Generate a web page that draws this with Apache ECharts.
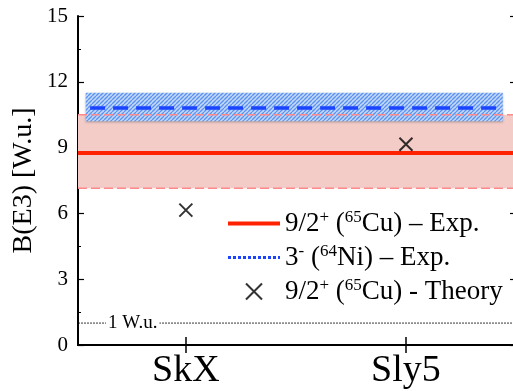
<!DOCTYPE html>
<html>
<head>
<meta charset="utf-8">
<script src="https://cdn.jsdelivr.net/npm/echarts@6/dist/echarts.min.js"></script>
<style>
  html, body { margin: 0; padding: 0; background: #fff; }
  #chart { width: 513px; height: 391px; }
</style>
</head>
<body>
<div id="chart"></div>
<script>
// categories (models) and theory values
var categories = ['SkX', 'Sly5'];
var theoryVals = [6.15, 9.15];

// experimental bands: [low, central, high]
var cuExp = [7.15, 8.75, 10.5];
var niExp = [10.2, 10.8, 11.5];

// extents along x (category index units)
var xRange = [0.51, 2.5];
var niRange = [0.545, 2.44];

var yTicks = [0, 3, 6, 9, 12, 15];
var wuLine = 1;

var serif = 'Liberation Serif';

// hatch pattern for the 64Ni band
function hatch() {
    var s = 4;
    var c = document.createElement('canvas');
    c.width = s; c.height = s;
    var g = c.getContext('2d');
    g.fillStyle = '#c3d7f8';
    g.fillRect(0, 0, s, s);
    g.strokeStyle = '#5b93ef';
    g.lineWidth = 1.3;
    for (var k = -s; k <= s; k += s) {
        g.beginPath();
        g.moveTo(k, s);
        g.lineTo(k + s, 0);
        g.stroke();
    }
    return c;
}

var theoryData = theoryVals.map(function (v, i) { return [i + 1, v]; });

var chart = echarts.init(document.getElementById('chart'));

var option = {
    animation: false,
    grid: { left: 78, top: 16, width: 438, bottom: 46, outerBoundsMode: 'none', containLabel: false },
    xAxis: [{
        type: 'value',
        min: xRange[0], max: xRange[1],
        axisLine: { show: true, lineStyle: { color: '#000', width: 2 } },
        axisTick: { show: true, inside: true, length: 8, customValues: [1, 2], lineStyle: { color: '#000', width: 1.5 } },
        axisLabel: {
            customValues: [1, 2],
            formatter: function (v) { return categories[Math.round(v) - 1] || ''; },
            fontFamily: serif, fontSize: 38, color: '#000', margin: 7
        },
        splitLine: { show: false }
    }, {
        type: 'value', position: 'top',
        min: xRange[0], max: xRange[1],
        axisLine: { show: true, lineStyle: { color: '#000', width: 1.5 } },
        axisTick: { show: true, inside: true, length: 8, customValues: [1, 2], lineStyle: { color: '#000', width: 1.5 } },
        axisLabel: { show: false },
        splitLine: { show: false }
    }],
    yAxis: [{
        type: 'value', min: 0, max: 15, interval: 3,
        name: 'B(E3) [W.u.]', nameLocation: 'middle', nameGap: 40, nameMoveOverlap: false,
        nameTextStyle: { fontFamily: serif, fontSize: 28, color: '#000' },
        axisLine: { show: true, lineStyle: { color: '#000', width: 2 } },
        axisTick: { show: true, inside: true, length: 6, lineStyle: { color: '#000', width: 1.2 } },
        minorTick: { show: true, splitNumber: 2, length: 3, lineStyle: { color: '#000', width: 1 } },
        axisLabel: {
            fontFamily: serif, fontSize: 21, color: '#000', margin: 10,
            formatter: function (v) { return yTicks.indexOf(v) >= 0 ? String(v) : ''; }
        },
        splitLine: { show: false }
    }, {
        type: 'value', min: 0, max: 15, interval: 3, position: 'right',
        axisLine: { show: true, lineStyle: { color: '#000', width: 2 } },
        axisTick: { show: true, inside: true, length: 6, lineStyle: { color: '#000', width: 1.2 } },
        minorTick: { show: true, splitNumber: 2, length: 3, lineStyle: { color: '#000', width: 1 } },
        axisLabel: { show: false },
        splitLine: { show: false }
    }],
    legend: {
        orient: 'vertical',
        left: 226, top: 209, padding: 0,
        itemWidth: 52, itemHeight: 16, itemGap: 5,
        textStyle: {
            fontFamily: serif, fontSize: 27, color: '#000', lineHeight: 29,
            rich: {
                n: { fontFamily: serif, fontSize: 27, color: '#000', lineHeight: 29 },
                sup: { fontFamily: serif, fontSize: 17, color: '#000', lineHeight: 15, verticalAlign: 'top' }
            }
        },
        formatter: function (name) {
            if (name === 'cu') return '{n|9/2}{sup|+}{n| (}{sup|65}{n|Cu) – Exp.}';
            if (name === 'ni') return '{n|3}{sup|-}{n| (}{sup|64}{n|Ni) – Exp.}';
            return '{n|9/2}{sup|+}{n| (}{sup|65}{n|Cu) - Theory}';
        },
        data: [
            { name: 'cu', itemStyle: { opacity: 0 }, lineStyle: { width: 4, color: '#ff2200' } },
            { name: 'ni', itemStyle: { opacity: 0 }, lineStyle: { type: [3, 2], width: 3, color: '#1a44ff' } },
            { name: 'th', itemStyle: { color: 'none', borderColor: '#000', borderWidth: 2 } }
        ]
    },
    series: [
        {
            // background bands
            name: 'bands', type: 'line', data: [], silent: true,
            markArea: {
                silent: true,
                data: [
                    [{ xAxis: xRange[0], yAxis: cuExp[0], itemStyle: { color: '#f3cbc7' } },
                     { xAxis: xRange[1], yAxis: cuExp[2] }],
                    [{ xAxis: niRange[0], yAxis: niExp[0], itemStyle: { color: { image: hatch(), repeat: 'repeat' }, shadowColor: 'rgba(0,0,0,0.25)', shadowBlur: 2, shadowOffsetY: 1 } },
                     { xAxis: niRange[1], yAxis: niExp[2] }]
                ]
            }
        },
        {
            name: 'cuLow', type: 'line', symbol: 'none', silent: true,
            data: [[xRange[0], cuExp[0]], [xRange[1], cuExp[0]]],
            lineStyle: { color: '#ff8a8a', width: 1.5, type: [9, 4] }
        },
        {
            name: 'cuHigh', type: 'line', symbol: 'none', silent: true, z: 1,
            data: [[xRange[0], cuExp[2]], [xRange[1], cuExp[2]]],
            lineStyle: { color: '#ff8a8a', width: 1.5, type: [9, 4] }
        },
        {
            name: 'wu', type: 'line', symbol: 'none', silent: true,
            data: [[xRange[0], wuLine], [xRange[1], wuLine]],
            lineStyle: { color: '#000', width: 0.8, type: [2, 1] },
            markLine: {
                silent: true, symbol: 'none',
                lineStyle: { color: 'rgba(0,0,0,0)', width: 0 },
                data: [{ yAxis: wuLine }],
                label: {
                    show: true,
                    formatter: '1 W.u.', position: 'insideStartTop', distance: [28, -9],
                    fontFamily: serif, fontSize: 19, color: '#000',
                    backgroundColor: '#fff', padding: [0, 2]
                }
            }
        },
        {
            name: 'cu', type: 'line', symbol: 'none', z: 3,
            data: [[xRange[0], cuExp[1]], [xRange[1], cuExp[1]]],
            itemStyle: { color: '#ff2200' },
            lineStyle: { color: '#ff2200', width: 4 }
        },
        {
            name: 'ni', type: 'line', symbol: 'none', z: 3,
            data: [[niRange[0] + 0.02, niExp[1]], [niRange[1] - 0.01, niExp[1]]],
            itemStyle: { color: '#1a44ff' },
            lineStyle: { color: '#1a44ff', width: 3.5, type: [15, 8] }
        },
        {
            name: 'th', type: 'scatter', z: 4,
            symbol: 'path://M0,0L10,10M10,0L0,10',
            symbolSize: 13,
            data: theoryData,
            itemStyle: { color: 'none', borderColor: '#000', borderWidth: 2 }
        }
    ]
};

chart.setOption(option);
</script>
</body>
</html>
